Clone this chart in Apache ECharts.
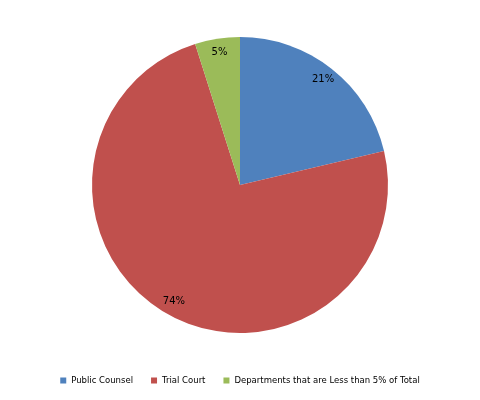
<!DOCTYPE html>
<html>
<head>
<meta charset="utf-8">
<script src="https://cdn.jsdelivr.net/npm/echarts@6/dist/echarts.min.js"></script>
<style>
  html, body { margin: 0; padding: 0; background: #fff; }
  #main { width: 480px; height: 400px; }
</style>
</head>
<body>
<div id="main"></div>
<script>
// data
const categories = ['Public Counsel', 'Trial Court', 'Departments that are Less than 5% of Total'];
const shares = [21.3, 73.8, 4.9];
const colors = ['#4F81BD', '#C0504D', '#9BBB59'];

const pieData = categories.map((name, i) => ({ name: name, value: shares[i] }));

const chart = echarts.init(document.getElementById('main'));
chart.setOption({
  animation: false,
  color: colors,
  textStyle: { fontFamily: 'DejaVu Sans' },
  legend: {
    bottom: 10,
    left: 'center',
    icon: 'rect',
    itemWidth: 6,
    itemHeight: 6,
    itemGap: 18,
    textStyle: { fontSize: 8.5, color: '#000' },
    data: categories
  },
  series: [
    {
      type: 'pie',
      center: [240, 185],
      radius: [0, 148],
      startAngle: 90,
      clockwise: true,
      label: { show: false },
      labelLine: { show: false },
      emphasis: { disabled: true },
      data: pieData
    },
    {
      // transparent ring, only used to put the % labels near the rim
      type: 'pie',
      center: [240, 185],
      radius: [114, 148],
      startAngle: 90,
      clockwise: true,
      silent: true,
      legendHoverLink: false,
      itemStyle: { color: 'transparent' },
      label: {
        show: true,
        position: 'inside',
        fontSize: 10,
        color: '#000',
        formatter: p => Math.round(p.percent) + '%'
      },
      labelLine: { show: false },
      emphasis: { disabled: true },
      data: pieData.map(d => ({ name: d.name + ' ', value: d.value }))
    }
  ]
});
</script>
</body>
</html>
